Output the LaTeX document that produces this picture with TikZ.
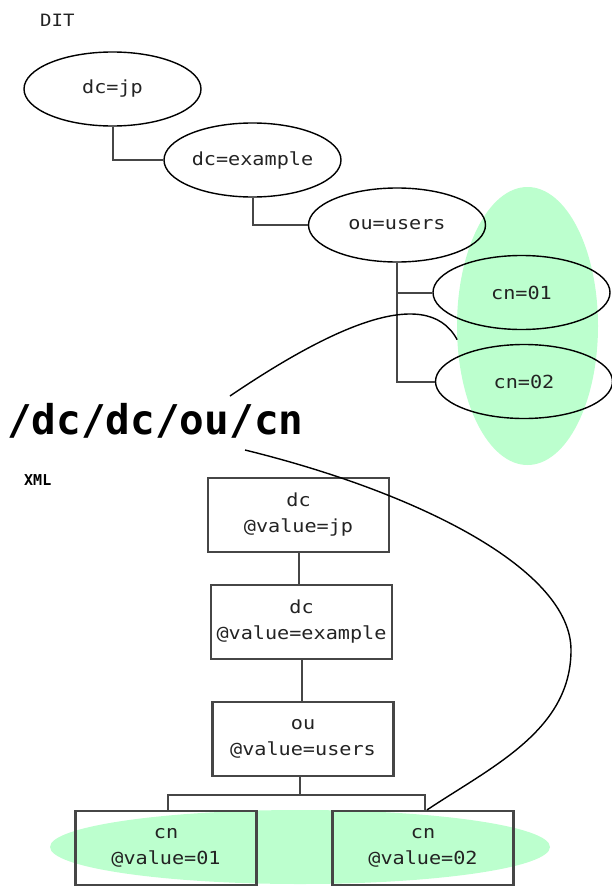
\documentclass[tikz,border=0pt]{standalone}
\usepackage{fontspec}
\usetikzlibrary{shapes.geometric,calc}
\newfontfamily\lblfont{DejaVu Sans Mono}[FakeStretch=1.12]
\newfontfamily\monofont{DejaVu Sans Mono}
\definecolor{selgreen}{RGB}{188,255,206}
\definecolor{edgegray}{RGB}{70,70,70}
\definecolor{textgray}{RGB}{35,35,35}

\begin{document}
\begin{tikzpicture}[x=1pt,y=1pt,
  entry/.style={ellipse, draw=black, line width=1.4pt, minimum width=177pt,
    minimum height=74pt, inner sep=0pt, text=textgray,
    font=\lblfont\fontsize{18}{20}\selectfont},
  elem/.style={rectangle, draw=edgegray, line width=2.2pt, minimum width=181pt,
    minimum height=74pt, inner sep=0pt, align=center, text=textgray,
    font=\lblfont\fontsize{18}{26}\selectfont},
  selection/.style={ellipse, fill=selgreen, draw=none, inner sep=0pt},
  tree/.style={draw=edgegray, line width=2pt},
  link/.style={draw=black, line width=1.4pt},
]
\useasboundingbox (0,0) rectangle (612,-886);

% highlighted selections
\node[selection, minimum width=141pt, minimum height=278pt] (dsel) at (527.5,-326) {};
\node[selection, minimum width=500pt, minimum height=74pt] (xsel) at (300,-847) {};

% directory information tree
\node[anchor=base west, inner sep=0pt, text=textgray,
  font=\lblfont\fontsize{17}{18}\selectfont] (dit) at (40,-26) {DIT};
\node[entry] (jp)  at (112.5,-89)  {dc=jp};
\node[entry] (ex)  at (252.5,-160) {dc=example};
\node[entry] (ou)  at (397,-225)   {ou=users};
\node[entry] (cn1) at (521.5,-292.5) {cn=01};
\node[entry] (cn2) at (524,-381.5) {cn=02};

\draw[tree] (jp.south) |- (ex.west);
\draw[tree] (ex.south) |- (ou.west);
\draw[tree] (ou.south) |- (cn1.west);
\draw[tree] (ou.south) |- (cn2.west);

% path expression
\node[anchor=base west, inner sep=0pt,
  font=\monofont\bfseries\fontsize{41}{48}\selectfont] (xpath) at (7,-434) {/dc/dc/ou/cn};

% XML element tree
\node[anchor=base west, inner sep=0pt,
  font=\monofont\bfseries\fontsize{15}{16}\selectfont] (xml) at (24,-485) {XML};
\node[elem] (xdc1) at (298.5,-515) {dc\\@value=jp};
\node[elem] (xdc2) at (301.5,-622) {dc\\@value=example};
\node[elem] (xou)  at (303,-739)   {ou\\@value=users};
\node[elem] (xcn1) at (166,-848)   {cn\\@value=01};
\node[elem] (xcn2) at (423,-848)   {cn\\@value=02};

\coordinate (bar) at (0,-795);
\draw[tree] (xdc1.south) -- (xdc1.south |- xdc2.north);
\draw[tree] (xdc2.south) -- (xdc2.south |- xou.north);
\draw[tree] ([xshift=-3pt]xou.south) -- ([xshift=-3pt]xou.south |- bar);
\draw[tree] ([xshift=2pt]xcn1.north) -- ([xshift=2pt]xcn1.north |- bar)
  -- ([xshift=2pt]xcn2.north |- bar) -- ([xshift=2pt]xcn2.north);

% links from the path expression to the matched entries
\coordinate (s1) at (230,-396);
\coordinate (s2) at (245,-450);
\draw[link] (s1) .. controls (320,-335) and (425,-280) .. (dsel.191);
\draw[link] (s2) .. controls (420,-493) and (571,-570) .. (571,-650)
  .. controls (571,-730) and (493,-766) .. ([xshift=4pt]xcn2.north);
\end{tikzpicture}
\end{document}
